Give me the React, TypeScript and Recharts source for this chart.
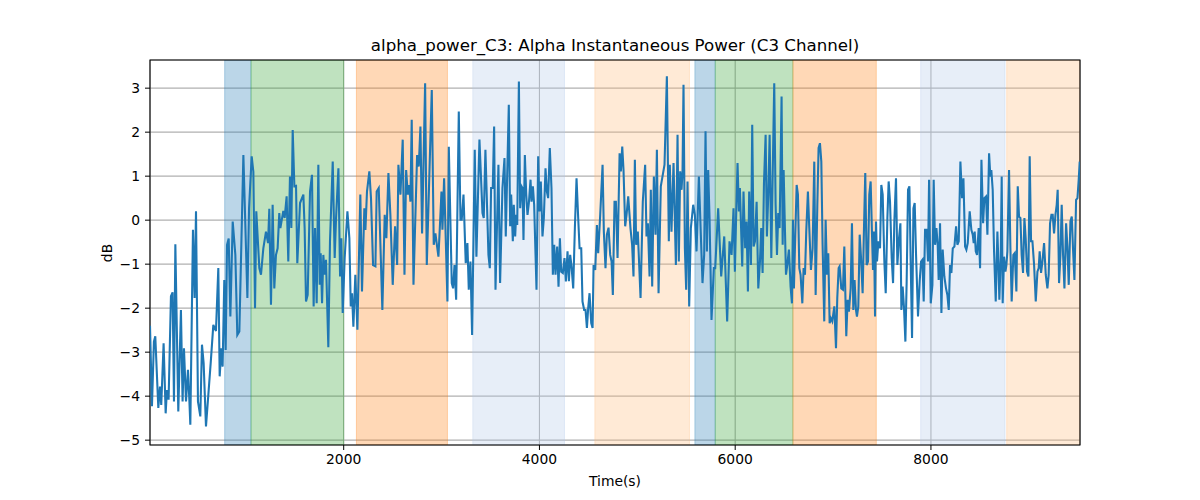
import React from "react";
import {
  LineChart,
  Line,
  XAxis,
  YAxis,
  CartesianGrid,
  ReferenceArea,
} from "recharts";

// [time (s), alpha power (dB)], split by stretch of the trace
const part1: [number, number][] = [
  [21, -2.4], [41, -4.23], [61, -2.76], [75, -2.64], [106, -4.27], [123, -3.78], [136, -4.2], [160, -2.8],
  [181, -4.39], [194, -3.86], [211, -4.08], [235, -1.73], [252, -1.64], [266, -4.12], [280, -0.55], [310, -4.35],
  [337, -2.04], [354, -4.12], [368, -2.91], [389, -4.12], [409, -3.4], [423, -4.08], [433, -4.65], [460, -0.22],
  [477, -1.77], [491, 0.2], [511, -4.12], [535, -4.46], [552, -2.83], [569, -3.25], [593, -4.69], [617, -3.97],
  [641, -3.25], [668, -2.38], [695, -2.52], [719, -1.09], [733, -3.55], [750, -2.91], [763, -3.33], [780, -1.36],
  [794, -2.95], [808, -0.56], [825, -0.42], [842, -2.19], [866, -0.03], [893, -0.79], [913, -2.61], [934, -2.53],
  [975, 1.48], [1016, -1.77], [1033, 0.27], [1060, 1.45], [1077, 1.1], [1094, -2.0], [1107, 0.2], [1138, -1.09],
  [1155, -1.24], [1179, -0.64], [1206, -0.26], [1227, -0.52],
];

const part2: [number, number][] = [
  [1240, 0.26], [1257, -1.92], [1274, 0.35], [1291, -1.55], [1308, -0.79], [1325, -0.64], [1342, 0.16], [1353, -0.18],
  [1383, 0.21], [1397, 0.05], [1417, 0.54], [1434, -0.94], [1451, 0.99], [1465, -0.18], [1479, 2.05], [1496, 0.77],
  [1513, 0.78], [1526, -0.98], [1554, 0.39], [1588, 0.58], [1601, -0.18], [1615, -1.85], [1632, -1.7], [1656, 0.65],
  [1676, 1.03], [1693, -1.96], [1707, -0.18], [1724, -1.89], [1741, 1.26], [1755, -1.47], [1765, -0.75], [1779, -1.89],
  [1792, -0.79], [1806, -1.24], [1819, -0.9], [1843, -2.89], [1860, -0.48], [1888, 1.33], [1908, -0.86], [1922, 0.05],
  [1946, 1.18], [1963, -1.28], [1976, -0.41], [1990, -2.11], [2010, -0.86], [2038, 0.2], [2058, -0.41], [2072, -1.96],
  [2085, -1.66], [2099, -2.42], [2119, -1.24], [2140, -2.49], [2170, 0.58], [2187, -1.62], [2211, 0.27], [2222, -0.22],
  [2238, 0.65], [2262, 1.11], [2279, 0.5], [2300, -1.02], [2324, -1.05], [2337, 0.65], [2358, 0.73], [2395, -2.04],
  [2419, 0.12], [2436, -0.41], [2457, 1.07],
];

const part3: [number, number][] = [
  [2477, 0.12], [2501, -1.47], [2525, -0.14], [2546, -1.02], [2559, 1.26], [2580, 0.58], [2603, 1.83], [2621, -1.24],
  [2638, 1.14], [2655, 0.58], [2668, 0.8], [2682, 0.42], [2695, 2.28], [2713, -1.47], [2750, 1.48], [2767, 1.22],
  [2784, 2.13], [2801, -0.3], [2832, 3.11], [2849, -1.02], [2900, 2.96], [2920, -0.56], [2937, -0.3], [2968, -0.83],
  [2982, -0.18], [2999, 0.65], [3009, -0.22], [3026, 0.95], [3060, -1.85], [3074, 1.67], [3104, -1.43], [3118, -1.55],
  [3132, -1.02], [3149, -1.81], [3176, 2.47], [3193, 0.01], [3206, 0.01], [3224, 0.58], [3247, -0.98], [3264, -0.52],
  [3278, -1.58], [3295, -0.94], [3312, -2.61], [3339, 1.6], [3356, -0.83], [3387, 1.83], [3418, 0.16], [3431, 0.05],
  [3448, 1.6], [3479, -0.79], [3493, -1.09], [3506, 0.73], [3523, 0.73], [3537, 2.13], [3551, -1.58], [3581, 1.26],
  [3598, -1.43], [3622, 0.73], [3643, 1.41], [3656, -0.37], [3687, 2.62],
];

const part4: [number, number][] = [
  [3701, -0.14], [3711, 0.58], [3728, -0.48], [3738, 0.35], [3752, -0.37], [3762, 0.12], [3773, -0.11], [3790, 3.15],
  [3803, 0.27], [3817, 0.77], [3827, 0.73], [3837, -0.45], [3851, 1.48], [3865, 0.58], [3878, 0.12], [3892, 0.39],
  [3909, 0.92], [3919, 0.42], [3933, 0.77], [3946, 0.35], [3970, -1.58], [3987, 1.45], [4001, 0.2], [4014, 0.88],
  [4031, -0.37], [4045, 0.05], [4062, 1.18], [4076, 0.65], [4089, 0.5], [4106, 1.64], [4123, 0.73], [4137, -1.24],
  [4151, -0.56], [4164, -1.24], [4181, -0.6], [4195, -1.51], [4209, -0.41], [4222, -1.17], [4239, -1.2], [4256, -0.86],
  [4270, -1.39], [4287, -0.71], [4301, -1.39], [4314, -0.79], [4328, -1.05], [4345, -1.55], [4362, -0.18], [4379, 0.95],
  [4396, 0.05], [4410, -0.64], [4427, -0.64], [4440, -1.85], [4457, -2.04], [4471, -2.04], [4485, -2.45], [4498, -2.0],
  [4512, -1.66], [4529, -2.34], [4543, -2.45], [4553, -1.02], [4570, -1.13], [4587, -0.11], [4600, -0.75], [4621, 0.12],
  [4645, 1.26], [4658, -0.26], [4675, -1.09], [4689, -0.33], [4706, -0.17], [4723, -0.79], [4737, -0.94], [4750, -1.7],
  [4767, 0.42], [4781, 0.42], [4798, -0.86], [4819, 1.52], [4832, 1.11], [4846, 1.67], [4859, 1.14], [4876, -0.14],
  [4890, 0.12], [4907, 0.54],
];

const part5: [number, number][] = [
  [4930, -0.18], [4947, -0.56], [4961, -1.28], [4975, 1.37], [4988, -0.56], [5005, -0.26], [5033, -1.77], [5056, 0.42],
  [5080, 1.26], [5094, -0.37], [5108, -0.07], [5125, -1.28], [5138, 0.69], [5152, -1.51], [5169, 0.99], [5186, -0.33],
  [5200, 1.6], [5217, -1.66], [5240, 0.77], [5278, 1.26], [5302, 3.27], [5322, -0.48], [5332, 1.26], [5349, -0.26],
  [5370, 1.3], [5394, -1.02], [5411, 1.94], [5424, -0.94], [5438, 1.11], [5452, 0.69], [5462, 1.11], [5472, 3.08],
  [5486, -0.64], [5499, -1.58], [5513, 0.88], [5530, -1.96], [5547, -0.18], [5571, 0.35], [5588, 0.12], [5605, -0.71],
  [5629, 0.99], [5649, -0.33], [5666, -1.43], [5683, -0.79], [5697, 2.02], [5711, -0.71], [5724, 1.14], [5738, 0.05],
  [5758, -2.27], [5782, -1.09], [5796, -1.09], [5826, 0.27], [5857, -1.28], [5888, -0.37], [5918, -2.3], [5942, -0.48],
  [5963, -0.79], [5983, 0.27], [5997, -1.17], [6010, 0.12], [6024, 1.3], [6038, 0.2], [6048, 0.73], [6072, -1.05],
  [6085, 0.65], [6102, -0.64], [6116, -0.03], [6130, -1.62], [6143, 0.65],
];

const part6: [number, number][] = [
  [6161, -1.02], [6174, 2.17], [6188, -0.6], [6202, -0.48], [6219, 0.42], [6236, -1.55], [6253, -0.94], [6266, -0.18],
  [6280, -1.2], [6294, 0.84], [6311, 1.94], [6324, -0.37], [6338, 0.58], [6352, 1.94], [6369, -0.86], [6382, 0.88],
  [6399, 3.11], [6413, 0.35], [6427, -0.79], [6440, 0.16], [6454, -0.18], [6474, 2.81], [6485, -0.56], [6495, 1.14],
  [6505, 0.12], [6519, -1.24], [6532, -1.02], [6549, -0.67], [6566, -1.51], [6580, -1.89], [6590, 0.01], [6600, -1.55],
  [6614, -0.33], [6628, 0.8], [6641, 0.58], [6655, -1.09], [6668, -1.24], [6686, -1.89], [6699, -1.09], [6713, -1.24],
  [6726, -0.26], [6743, 0.65], [6757, -0.18], [6774, -1.13], [6791, -0.64], [6808, 1.33], [6822, -1.7], [6839, 0.31],
  [6852, 1.64], [6866, 1.75], [6880, 1.33], [6893, -0.56], [6910, -2.3], [6924, 0.01], [6938, -1.24], [6951, -0.75],
  [6965, -2.34], [6978, -2.23], [6992, -2.3], [7013, -1.96], [7030, -2.91], [7043, -1.77], [7057, -1.09], [7067, -1.05],
  [7084, -1.55], [7101, -1.58], [7115, -0.6], [7135, -2.64], [7149, -1.81], [7162, -2.08], [7180, -1.55], [7193, -0.07],
  [7207, -2.04], [7220, -1.36], [7234, -2.04], [7244, -2.19], [7258, -1.96], [7272, -0.33], [7285, -0.83], [7302, -1.66],
  [7316, -0.18], [7329, 1.07], [7343, -1.02], [7357, -0.94], [7370, 0.58],
];

const part7: [number, number][] = [
  [7384, 0.88], [7398, -0.33], [7408, -1.13], [7418, -0.26], [7429, -2.19], [7439, -0.03], [7449, -0.94], [7463, -0.48],
  [7480, -0.64], [7493, 0.8], [7507, 0.58], [7524, -0.94], [7538, -1.66], [7555, 0.05], [7568, 0.88], [7582, 0.42],
  [7599, -0.86], [7613, -1.43], [7626, -0.03], [7643, 0.95], [7657, -1.02], [7674, -0.41], [7688, -0.07], [7698, -2.04],
  [7711, -1.51], [7725, -2.0], [7739, -2.76], [7752, -1.39], [7766, 0.69], [7780, 0.77], [7793, -0.94], [7807, -2.68],
  [7821, 0.27], [7834, 0.39], [7848, -0.79], [7868, -2.19], [7885, -1.39], [7899, -0.94], [7913, -0.9], [7926, -1.85],
  [7940, -0.22], [7957, -0.22], [7970, -0.94], [7981, 0.92], [7998, -1.89], [8015, -1.47], [8028, 0.92], [8042, -0.56],
  [8056, -0.18], [8069, -0.56], [8079, -1.36], [8093, -0.07], [8107, -2.11], [8120, -0.67], [8137, -1.28], [8154, -1.55],
  [8168, -1.7], [8182, -2.04], [8195, -1.02], [8209, -1.2], [8223, -0.64], [8240, -0.6], [8257, -0.14], [8270, -0.56],
  [8284, -0.48], [8301, 1.33], [8318, 0.5], [8332, 0.95], [8349, -0.6], [8362, -0.67], [8376, -0.52], [8396, 0.2],
  [8413, -0.22], [8427, -0.33], [8437, -0.52], [8447, -0.26], [8458, -0.71], [8471, -0.79], [8488, -0.18], [8502, -1.09],
  [8516, 1.37], [8533, -0.07], [8546, 0.5], [8563, 0.54], [8577, -0.33], [8594, 1.52],
];

const part8: [number, number][] = [
  [8607, 0.99], [8617, 1.14], [8631, 0.69], [8645, -0.71], [8662, -1.85], [8679, -0.26], [8689, -0.94], [8699, -1.81],
  [8713, -0.86], [8723, 0.99], [8733, -1.89], [8747, -0.83], [8761, -1.17], [8771, -1.02], [8781, -0.71], [8798, 1.14],
  [8812, -0.64], [8825, -1.85], [8842, -0.79], [8856, -0.75], [8873, -1.62], [8887, 0.77], [8900, 0.08], [8914, 0.05],
  [8927, -0.79], [8941, -1.2], [8955, 0.05], [8968, -0.41], [8982, -1.17], [8996, -1.28], [9009, 1.45], [9023, -0.48],
  [9037, -0.48], [9054, -1.02], [9071, -1.85], [9088, -1.17], [9101, -1.09], [9111, -0.71], [9125, -1.2], [9139, -0.94],
  [9156, -0.52], [9173, -1.24], [9190, -1.55], [9203, -1.24], [9217, -0.07], [9231, 0.12], [9244, 0.12], [9258, -0.3],
  [9272, 0.12], [9285, 0.35], [9295, 0.69], [9309, -1.43], [9323, -0.79], [9336, 0.35], [9350, -0.79], [9364, -1.55],
  [9381, -0.07], [9394, -0.6], [9408, -1.47], [9425, -0.03], [9439, 0.08], [9452, -0.67], [9466, -1.36], [9483, 0.46],
  [9497, 0.5], [9510, 0.92], [9520, 1.33],
];

// shaded epochs
const bandStart = [784, 1053, 2130, 3319, 4566, 5588, 5796, 6590, 7895, 8774];
const bandEnd = [1053, 2000, 3060, 4256, 5533, 5796, 6590, 7442, 8757, 9523];
const bandKind = ["blue", "green", "orange", "paleBlue", "paleOrange", "blue", "green", "orange", "paleBlue", "paleOrange"];

const xTicks = [2000, 4000, 6000, 8000];
const yTicks = [-5, -4, -3, -2, -1, 0, 1, 2, 3];
const xDomain: [number, number] = [21, 9523];
const yDomain: [number, number] = [-5.11, 3.64];

const bandColor: Record<string, string> = {
  blue: "#1f77b4",
  green: "#2ca02c",
  orange: "#ff7f0e",
  paleBlue: "#aec7e8",
  paleOrange: "#ffbb78",
};

const data = [...part1, ...part2, ...part3, ...part4, ...part5, ...part6, ...part7, ...part8].map(
  ([t, v]) => ({ t, v })
);

const font = "'DejaVu Sans', sans-serif";
const fmt = (v: number) => (v < 0 ? "\u2212" + Math.abs(v) : String(v));

export default function App() {
  return (
    <div style={{ position: "absolute", left: 0, top: 0, width: 1200, height: 500, background: "#fff", fontFamily: font }}>
      <div
        style={{
          position: "absolute",
          left: 150,
          width: 930,
          top: 36,
          textAlign: "center",
          fontSize: 16.67,
          lineHeight: "20px",
          color: "#000",
        }}
      >
        alpha_power_C3: Alpha Instantaneous Power (C3 Channel)
      </div>
      <LineChart
        width={1200}
        height={500}
        data={data}
        margin={{ top: 60, right: 120, bottom: 25, left: 0 }}
      >
        {bandStart.map((s, i) => (
          <ReferenceArea
            key={i}
            x1={s}
            x2={bandEnd[i]}
            y1={yDomain[0]}
            y2={yDomain[1]}
            fill={bandColor[bandKind[i]]}
            fillOpacity={0.3}
            stroke={bandColor[bandKind[i]]}
            strokeOpacity={0.3}
            strokeWidth={1}
            ifOverflow="hidden"
          />
        ))}
        <CartesianGrid stroke="#b0b0b0" strokeWidth={1.1} />
        <XAxis
          type="number"
          dataKey="t"
          domain={xDomain}
          ticks={xTicks}
          allowDataOverflow
          height={30}
          tickSize={5}
          tickMargin={4}
          axisLine={false}
          tickLine={{ stroke: "#000" }}
          tick={{ fill: "#000", fontSize: 13.89, fontFamily: font }}
          tickFormatter={fmt}
        />
        <YAxis
          type="number"
          domain={yDomain}
          ticks={yTicks}
          allowDataOverflow
          width={150}
          tickSize={5}
          tickMargin={5}
          axisLine={false}
          tickLine={{ stroke: "#000" }}
          tick={{ fill: "#000", fontSize: 13.89, fontFamily: font }}
          tickFormatter={fmt}
        />
        <Line
          type="linear"
          dataKey="v"
          stroke="#1f77b4"
          strokeWidth={2.08}
          dot={false}
          isAnimationActive={false}
        />
        <ReferenceArea
          x1={xDomain[0]}
          x2={xDomain[1]}
          y1={yDomain[0]}
          y2={yDomain[1]}
          fill="none"
          stroke="#000"
          strokeWidth={1.1}
        />
      </LineChart>
      <div
        style={{
          position: "absolute",
          left: 150,
          width: 930,
          top: 472,
          textAlign: "center",
          fontSize: 13.89,
          lineHeight: "18px",
          color: "#000",
        }}
      >
        Time(s)
      </div>
      <div
        style={{
          position: "absolute",
          left: 107,
          top: 253,
          fontSize: 13.89,
          lineHeight: "18px",
          color: "#000",
          transform: "translate(-50%, -50%) rotate(-90deg)",
          whiteSpace: "nowrap",
        }}
      >
        dB
      </div>
    </div>
  );
}
